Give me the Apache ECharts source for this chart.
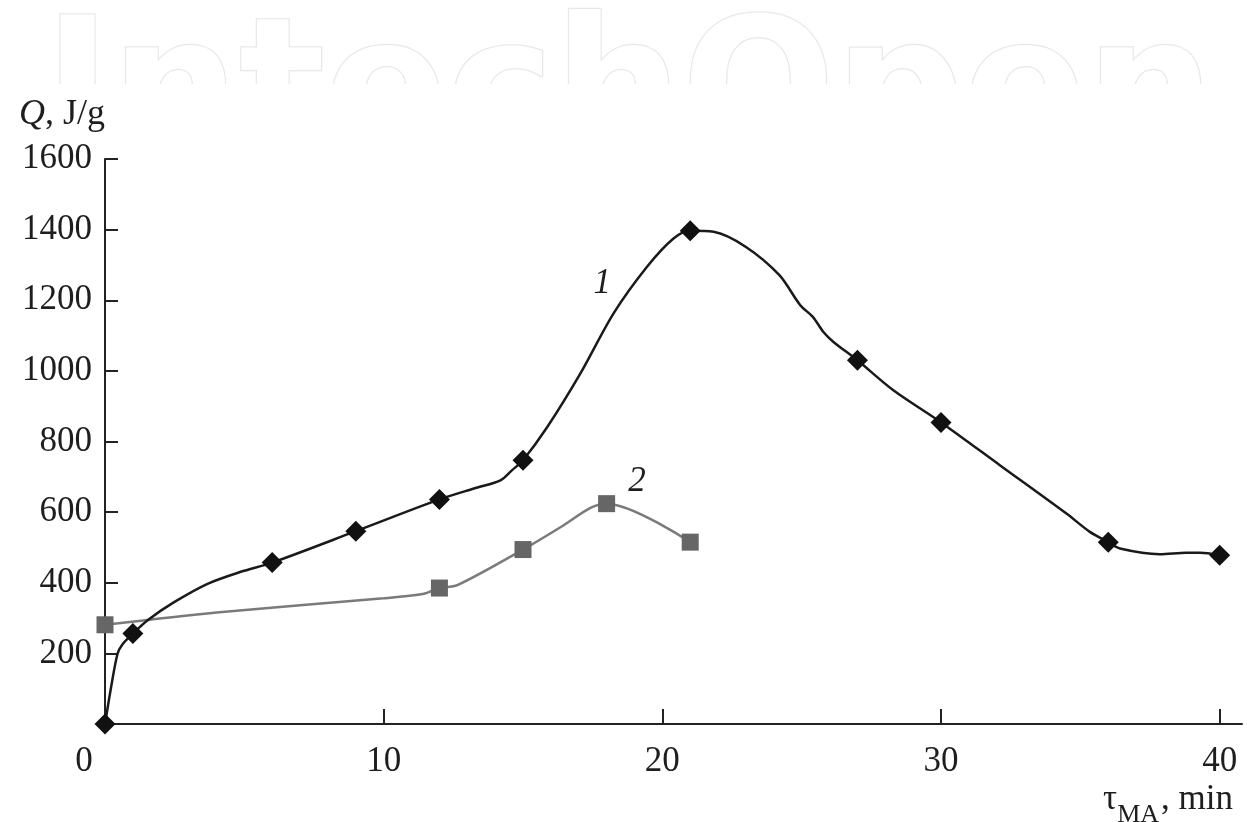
<!DOCTYPE html>
<html>
<head>
<meta charset="utf-8">
<script src="https://cdn.jsdelivr.net/npm/echarts@6/dist/echarts.min.js"></script>
<style>
html,body{margin:0;padding:0;background:#fff;}
#chart{width:1247px;height:822px;}
</style>
</head>
<body>
<div id="chart"></div>
<script>
// ---- data ----
const xTickValues = [10, 20, 30, 40];
const xLabelValues = [0, 10, 20, 30, 40];
const yTickLabels = [200, 400, 600, 800, 1000, 1200, 1400, 1600];

// curve 1: measured points (diamonds)
const s1X = [0, 1, 6, 9, 12, 15, 21, 27, 30, 36, 40];
const s1Y = [0, 256, 457, 546, 636, 747, 1397, 1030, 854, 515, 478];
// curve 1: drawn line
const c1X = [0, 0.22, 0.45, 0.63, 1, 1.53, 2.48, 3.68, 4.87, 6, 9, 12, 13.24, 14.19, 14.61, 15, 15.87, 17.06, 18.25, 19.45, 20.4, 21, 21.84, 23.0, 24.2, 24.95, 25.4, 25.78, 26.14, 27, 28.29, 30, 32.11, 34.5, 35.34, 36, 36.42, 37.85, 38.8, 39.3, 40];
const c1Y = [0, 105, 199, 226, 256, 294, 345, 397, 431, 457, 546, 636, 667, 690, 719, 747, 841, 993, 1163, 1295, 1375, 1397, 1394, 1351, 1271, 1186, 1153, 1110, 1082, 1030, 945, 854, 733, 596, 544, 515, 497, 481, 485, 485, 478];

// curve 2: measured points (squares)
const s2X = [0, 12, 15, 18, 21];
const s2Y = [281, 385, 494, 624, 515];
// curve 2: drawn line
const c2X = [0, 4, 10, 11.45, 12, 12.64, 15, 16.46, 17.42, 18, 21];
const c2Y = [281, 316, 356, 369, 385, 393, 494, 563, 612, 624, 515];

// curve number labels
const curveLabels = ['1', '2'];
const curveLabelX = [17.84, 19.09];
const curveLabelY = [1248, 685];

const zip = (xs, ys) => xs.map((x, i) => [x, ys[i]]);

const serif = '"Liberation Serif", "Times New Roman", serif';
const textColor = '#1e1e1e';

const chart = echarts.init(document.getElementById('chart'), null, {renderer: 'canvas'});

chart.setOption({
  animation: false,
  backgroundColor: '#fff',
  grid: {left: 105, right: 5, top: 159, bottom: 98, containLabel: false, outerBoundsMode: 'none'},
  graphic: [
    {
      type: 'text', z: 0,
      style: {
        text: 'IntechOpen', x: 44, y: 9,
        font: 'bold 180px "DejaVu Sans"',
        textVerticalAlign: 'top',
        fill: '#fff', stroke: '#e8e8e8', lineWidth: 2.5
      }
    },
    {
      type: 'rect', z: 1,
      shape: {x: 0, y: 84, width: 1247, height: 160},
      style: {fill: '#fff'}
    }
  ],
  xAxis: {
    type: 'value', min: 0, max: 40.8, z: 5,
    name: '{t|τ}{s|MA}{t|, min}',
    nameLocation: 'end', nameGap: -9,
    nameTextStyle: {
      align: 'right', verticalAlign: 'top', padding: [58, 0, 0, 0],
      rich: {
        t: {fontFamily: serif, fontSize: 35, color: textColor},
        s: {fontFamily: serif, fontSize: 26, color: textColor, verticalAlign: 'top', lineHeight: 26, padding: [20, 2, 0, 0]}
      }
    },
    axisLine: {show: true, lineStyle: {color: '#222', width: 2}},
    axisTick: {show: true, inside: true, length: 15, lineStyle: {color: '#222', width: 2}, customValues: xTickValues},
    axisLabel: {
      customValues: xLabelValues,
      margin: 20,
      fontFamily: serif, fontSize: 35, color: textColor,
      formatter: v => v === 0 ? '{z|0}' : String(v),
      rich: {z: {fontFamily: serif, fontSize: 35, color: textColor, padding: [0, 42, 0, 0]}}
    },
    splitLine: {show: false}
  },
  yAxis: {
    type: 'value', min: 0, max: 1600, interval: 200, z: 5,
    name: '{q|Q}{t|, J/g}',
    nameLocation: 'end', nameGap: 26,
    nameTextStyle: {
      align: 'right', verticalAlign: 'bottom',
      rich: {
        q: {fontFamily: serif, fontSize: 36, fontStyle: 'italic', color: textColor},
        t: {fontFamily: serif, fontSize: 36, color: textColor}
      }
    },
    axisLine: {show: true, lineStyle: {color: '#222', width: 2}},
    axisTick: {show: true, inside: true, length: 13, lineStyle: {color: '#222', width: 2}, customValues: yTickLabels},
    axisLabel: {
      customValues: yTickLabels,
      margin: 13,
      fontFamily: serif, fontSize: 35, color: textColor,
      formatter: v => String(v)
    },
    splitLine: {show: false}
  },
  series: [
    {
      type: 'line', name: 'curve 2 line', z: 6,
      data: zip(c2X, c2Y), smooth: 0.3, showSymbol: false,
      lineStyle: {color: '#7a7a7a', width: 2.5}
    },
    {
      type: 'line', name: 'curve 1 line', z: 7,
      data: zip(c1X, c1Y), smooth: 0.3, showSymbol: false,
      lineStyle: {color: '#1a1a1a', width: 2.5},
      markPoint: {
        symbol: 'circle', symbolSize: 0,
        label: {show: true, formatter: p => p.name, fontFamily: serif, fontSize: 35, fontStyle: 'italic', color: textColor},
        data: curveLabels.map((n, i) => ({name: n, coord: [curveLabelX[i], curveLabelY[i]]}))
      }
    },
    {
      type: 'scatter', name: 'curve 2 points', z: 8,
      data: zip(s2X, s2Y), symbol: 'rect', symbolSize: 17,
      itemStyle: {color: '#666', opacity: 1}
    },
    {
      type: 'scatter', name: 'curve 1 points', z: 9,
      data: zip(s1X, s1Y), symbol: 'diamond', symbolSize: 21,
      itemStyle: {color: '#111', opacity: 1}
    }
  ]
});
</script>
</body>
</html>
